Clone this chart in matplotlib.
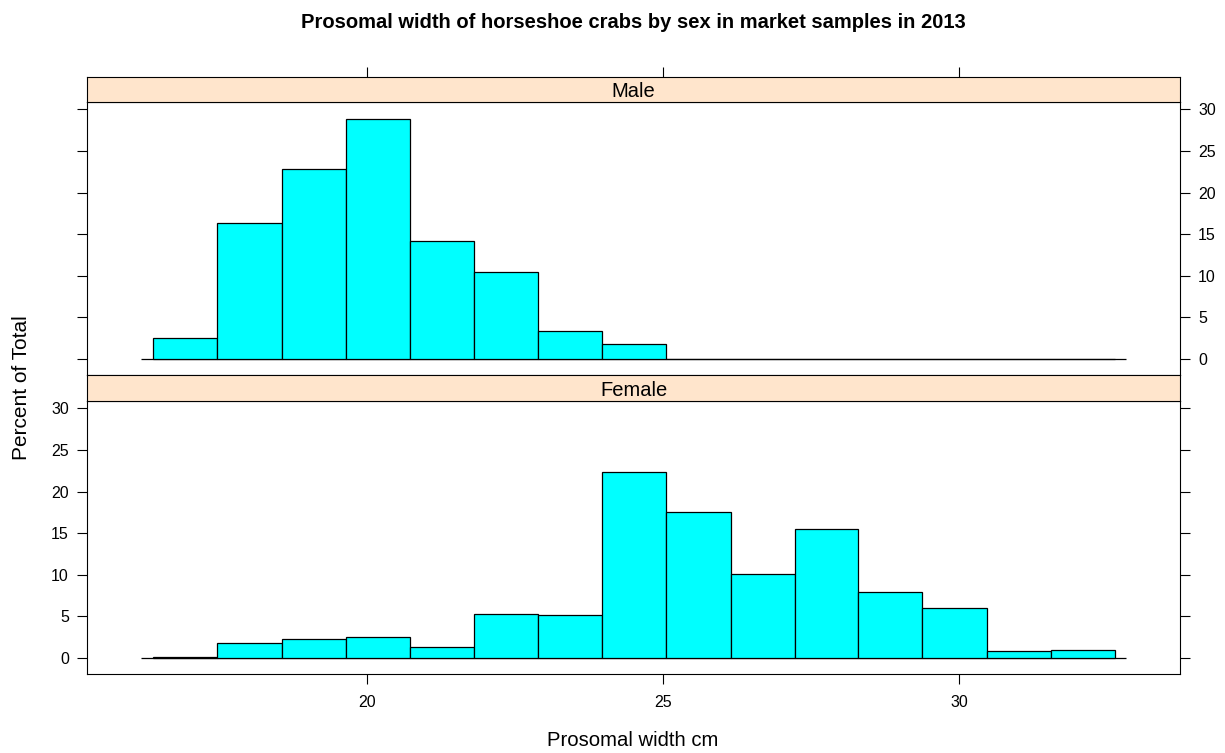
import numpy as np
import matplotlib
matplotlib.use("Agg")
import matplotlib.pyplot as plt

plt.rcParams['font.family'] = ['Liberation Sans', 'DejaVu Sans']

# histogram bin edges (cm), shared by both panels
bin_edges = [16.39, 17.47, 18.56, 19.64, 20.72, 21.80, 22.89, 23.97,
             25.05, 26.14, 27.22, 28.30, 29.38, 30.47, 31.55, 32.63]
# data range line drawn under the bars
data_lo, data_hi = 16.19, 32.82

# percent of total in each bin
male_pct = [2.5, 16.3, 22.85, 28.8, 14.15, 10.5, 3.37, 1.77,
            0, 0, 0, 0, 0, 0, 0]
female_pct = [0.12, 1.84, 2.32, 2.49, 1.25, 5.23, 5.1, 22.35,
              17.6, 10.1, 15.5, 7.9, 6.0, 0.8, 0.93]

x_ticks = [20, 25, 30]
y_ticks = [0, 5, 10, 15, 20, 25, 30]
xlim = (15.27, 33.73)
ylim = (-1.95, 30.9)

title = "Prosomal width of horseshoe crabs by sex in market samples in 2013"
xlabel = "Prosomal width cm"
ylabel = "Percent of Total"

W, H = 1225, 753
bar_col = "#00FFFF"
strip_col = "#FFE5CC"


def rect(l, t, r, b):
    return [l / W, 1 - b / H, (r - l) / W, (b - t) / H]


fig = plt.figure(figsize=(W / 100, H / 100), dpi=100)

panels = [
    ("Male", male_pct, (87, 77, 1180, 102), (87, 102, 1180, 375), "right"),
    ("Female", female_pct, (87, 375, 1180, 401), (87, 401, 1180, 674), "left"),
]

edges = np.array(bin_edges)
for i, (name, pct, srect, prect, ylab_side) in enumerate(panels):
    ax = fig.add_axes(rect(*prect))
    ax.hlines(0, data_lo, data_hi, color="black", lw=0.9, zorder=1)
    ax.bar(edges[:-1], pct, width=np.diff(edges), align="edge",
           color=bar_col, edgecolor="black", linewidth=0.9, zorder=2)
    ax.set_xlim(*xlim)
    ax.set_ylim(*ylim)
    ax.set_yticks(y_ticks)
    ax.tick_params(axis="y", direction="out", length=7, width=0.8,
                   left=True, right=True, labelsize=11.5,
                   labelleft=(ylab_side == "left"),
                   labelright=(ylab_side == "right"), pad=6)
    ax.set_xticks(x_ticks)
    if i == 1:
        ax.tick_params(axis="x", direction="out", length=7, width=0.8,
                       labelsize=11.5, pad=8)
    else:
        ax.tick_params(axis="x", bottom=False, labelbottom=False)
    for s in ax.spines.values():
        s.set_linewidth(0.8)

    # strip on top of each panel
    sax = fig.add_axes(rect(*srect), sharex=ax)
    sax.set_facecolor(strip_col)
    sax.set_yticks([])
    sax.text(0.5, 0.42, name, transform=sax.transAxes, ha="center",
             va="center", fontsize=14.5)
    if i == 0:
        sax.tick_params(axis="x", bottom=False, labelbottom=False,
                        top=True, labeltop=False, direction="out",
                        length=7, width=0.8)
    else:
        sax.tick_params(axis="x", bottom=False, labelbottom=False)
    for s in sax.spines.values():
        s.set_linewidth(0.8)

fig.text(633 / W, 1 - 22 / H, title, ha="center", va="center",
         fontsize=14.5, fontweight="bold")
fig.text(633 / W, 1 - 740 / H, xlabel, ha="center", va="center", fontsize=14.6)
fig.text(22 / W, 1 - 388 / H, ylabel, ha="center", va="center",
         rotation=90, fontsize=15)

fig.savefig("out.png", dpi=100)
